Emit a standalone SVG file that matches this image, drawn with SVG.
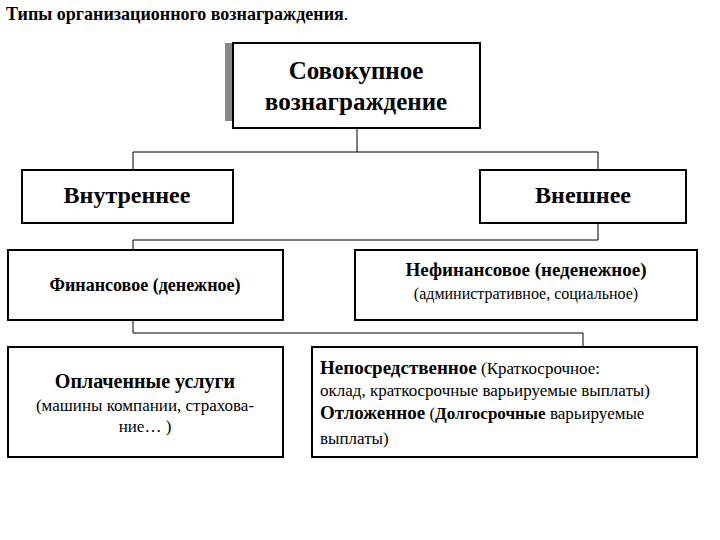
<svg xmlns="http://www.w3.org/2000/svg" width="720" height="540" viewBox="0 0 720 540" font-family="'Liberation Serif','DejaVu Serif',serif">
<style>
.b{fill:#fff;stroke:#000;stroke-width:2}
.c{fill:none;stroke:#000;stroke-width:1}
.h{font-weight:bold}
</style>
<rect width="720" height="540" fill="#fff"/>
<text x="6" y="20" class="h" font-size="18">Типы организационного вознаграждения<tspan font-weight="normal">.</tspan></text>
<g id="connectors">
<path class="c" d="M357 128V152M133 170V152H598V170M598 223V240H133V250M133 320V333H583V347"/>
</g>
<g id="total">
<rect x="225" y="43" width="8" height="78" fill="#888"/>
<rect class="b" x="233" y="43" width="247" height="85"/>
<text class="h" x="356" y="79" font-size="25" text-anchor="middle">Совокупное</text>
<text class="h" x="356" y="110" font-size="25" text-anchor="middle">вознаграждение</text>
</g>
<g id="internal">
<rect class="b" x="22" y="170" width="211" height="53"/>
<text class="h" x="127" y="203" font-size="24" text-anchor="middle">Внутреннее</text>
</g>
<g id="external">
<rect class="b" x="480" y="170" width="206" height="53"/>
<text class="h" x="583" y="203" font-size="24" text-anchor="middle">Внешнее</text>
</g>
<g id="financial">
<rect class="b" x="8" y="250" width="275" height="70"/>
<text class="h" x="145" y="291" font-size="18" text-anchor="middle">Финансовое (денежное)</text>
</g>
<g id="nonfinancial">
<rect class="b" x="355" y="250" width="342" height="70"/>
<text class="h" x="526" y="276" font-size="19" text-anchor="middle">Нефинансовое (неденежное)</text>
<text x="526" y="299" font-size="16" text-anchor="middle">(административное, социальное)</text>
</g>
<g id="services">
<rect class="b" x="8" y="347" width="275" height="110"/>
<text class="h" x="145" y="388" font-size="20" text-anchor="middle">Оплаченные услуги</text>
<text x="145" y="411" font-size="17" text-anchor="middle">(машины компании, страхова-</text>
<text x="145" y="432" font-size="17" text-anchor="middle">ние… )</text>
</g>
<g id="direct">
<rect class="b" x="312" y="347" width="385" height="110"/>
<text x="320" y="374" font-size="17"><tspan class="h" font-size="19">Непосредственное</tspan> (Краткосрочное:</text>
<text x="320" y="396" font-size="17">оклад, краткосрочные варьируемые выплаты)</text>
<text x="320" y="419" font-size="17"><tspan class="h" font-size="19">Отложенное</tspan> (<tspan class="h">Долгосрочные</tspan> варьируемые</text>
<text x="320" y="444" font-size="17">выплаты)</text>
</g>
</svg>
